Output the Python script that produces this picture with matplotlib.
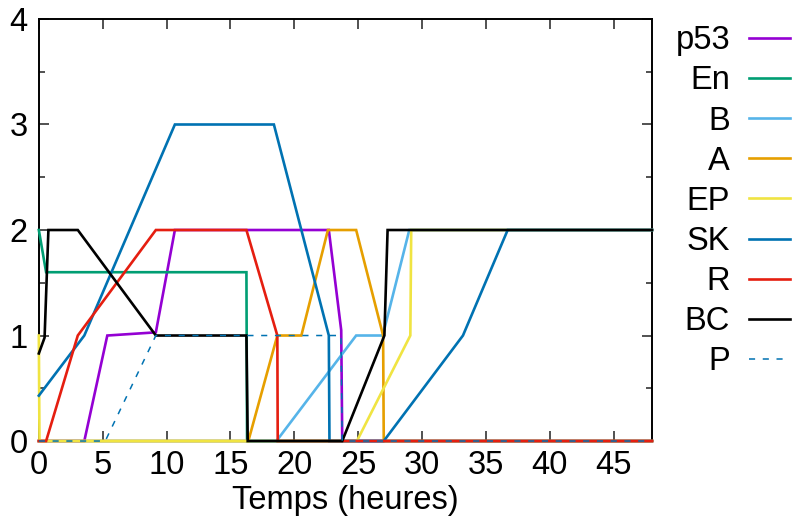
import matplotlib
matplotlib.use("Agg")
import matplotlib.pyplot as plt
from matplotlib.ticker import MultipleLocator

plt.rcParams['font.family'] = ['Liberation Sans', 'DejaVu Sans']

# Time courses (hours) and activity levels for each species
t_p53 = [0, 3.56, 5.36, 9.16, 10.65, 22.7, 23.67, 23.75, 48]
v_p53 = [0, 0, 1.0, 1.03, 2, 2, 1.05, 0, 0]

t_en = [0, 0.57, 16.25, 16.3, 48]
v_en = [2, 1.6, 1.6, 0, 0]

t_b = [0, 18.6, 24.84, 26.92, 29.0, 48]
v_b = [0, 0, 1, 1, 2, 2]

t_a = [0, 16.4, 18.67, 20.55, 22.63, 24.84, 26.95, 27.0, 48]
v_a = [0, 0, 1, 1, 2, 2, 1, 0, 0]

t_ep = [0, 0.05, 24.9, 29.08, 29.15, 48]
v_ep = [1, 0, 0, 1, 2, 2]

t_sk = [0, 3.56, 10.65, 18.4, 22.7, 22.75, 27.0, 33.2, 36.7, 48]
v_sk = [0.43, 1, 3, 3, 1, 0, 0, 1, 2, 2]

t_r = [0, 0.57, 3.05, 9.16, 16.25, 18.67, 18.7, 48]
v_r = [0, 0, 1, 2, 2, 1, 0, 0]

t_bc = [0, 0.45, 0.75, 3.05, 9.16, 16.25, 16.35, 23.75, 27.05, 27.3, 48]
v_bc = [0.83, 0.98, 2, 2, 1, 1, 0, 0, 1, 2, 2]

t_p = [0, 5.2, 9.16, 23.65, 23.75, 48]
v_p = [0, 0, 1, 1, 0, 0]

series = [
    ("p53", t_p53, v_p53, "#9400d3", "-"),
    ("En", t_en, v_en, "#009e73", "-"),
    ("B", t_b, v_b, "#56b4e9", "-"),
    ("A", t_a, v_a, "#e69f00", "-"),
    ("EP", t_ep, v_ep, "#f0e442", "-"),
    ("SK", t_sk, v_sk, "#0072b2", "-"),
    ("R", t_r, v_r, "#e51e10", "-"),
    ("BC", t_bc, v_bc, "#000000", "-"),
    ("P", t_p, v_p, "#0072b2", "--"),
]

FS = 23.5

fig = plt.figure(figsize=(7.94, 5.16), dpi=100)
ax = fig.add_axes([0.0489, 0.1453, 0.7723, 0.8179])

for i, (name, t, v, col, ls) in enumerate(series):
    if ls == "--":
        ax.plot(t, v, color=col, lw=1.1, linestyle=(0, (4, 5)), label=name,
                clip_on=False, zorder=3 + i * 0.01)
    else:
        ax.plot(t, v, color=col, lw=1.9, linestyle=ls, label=name,
                clip_on=False, zorder=3 + i * 0.01, solid_joinstyle="miter")

ax.set_xlim(0, 48)
ax.set_ylim(0, 4)
ax.xaxis.set_major_locator(MultipleLocator(5))
ax.yaxis.set_major_locator(MultipleLocator(1))
ax.yaxis.set_minor_locator(MultipleLocator(0.5))
ax.tick_params(axis="both", which="both", direction="in", top=True, right=True,
               labelsize=FS, width=1.1, color="#222222")
ax.tick_params(axis="both", which="major", length=7)
ax.tick_params(axis="both", which="minor", length=4.5)
ax.tick_params(axis="x", pad=6.5)
ax.tick_params(axis="y", pad=8)
for s in ax.spines.values():
    s.set_linewidth(1.4)
    s.set_zorder(2)

ax.set_xlabel("Temps (heures)", fontsize=FS, labelpad=3)

leg = fig.legend(loc="upper right", bbox_to_anchor=(0.995, 0.951), frameon=False,
                 markerfirst=False, fontsize=FS, handlelength=1.26,
                 handletextpad=0.58, labelspacing=0.28, borderaxespad=0.0,
                 borderpad=0.0)

fig.savefig("out.png", dpi=100)
